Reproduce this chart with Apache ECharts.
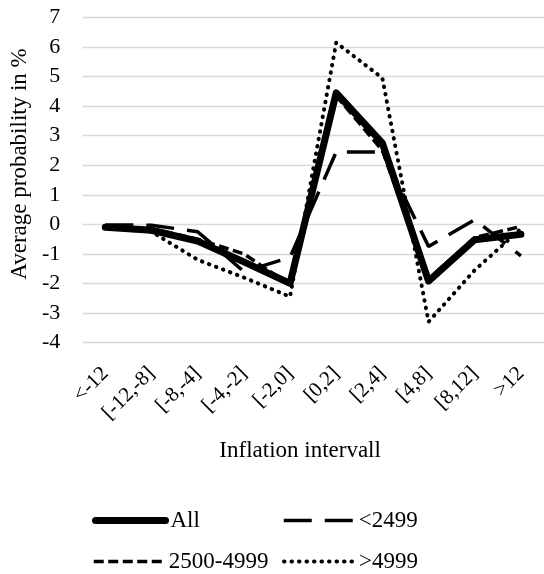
<!DOCTYPE html>
<html>
<head>
<meta charset="utf-8">
<script src="https://cdn.jsdelivr.net/npm/echarts@6/dist/echarts.min.js"></script>
<style>
  html, body { margin: 0; padding: 0; background: #fff; }
  #chart { width: 544px; height: 574px; }
</style>
</head>
<body>
<div id="chart"></div>
<script>
// inflation buckets on the x axis
var categories = ['<-12', '[-12,-8]', '[-8,-4]', '[-4,-2]', '[-2,0]', '[0,2]', '[2,4]', '[4,8]', '[8,12]', '>12'];

// average probability in %
var allValues = [-0.1, -0.2, -0.57, -1.27, -2.0, 4.45, 2.75, -1.92, -0.52, -0.34];
var below2499 = [-0.02, -0.03, -0.25, -1.6, -1.12, 2.45, 2.45, -0.75, 0.16, -1.07];
var mid2500to4999 = [-0.05, -0.15, -0.5, -1.0, -2.05, 4.35, 2.5, -1.85, -0.45, -0.07];
var above4999 = [-0.1, -0.25, -1.2, -1.8, -2.45, 6.15, 4.95, -3.3, -1.55, -0.15];

var seriesNames = ['All', '<2499', '2500-4999', '>4999'];

var font = 'Liberation Serif';

// line looks, shared by the series and their legend keys
var lineLooks = [
  { color: '#000', width: 7, type: 'solid', cap: 'round', join: 'round' },
  { color: '#000', width: 3.5, type: [28, 13], cap: 'butt' },
  { color: '#000', width: 3.5, type: [10, 4.5], cap: 'butt' },
  { color: '#000', width: 4, type: [0.5, 7], cap: 'round' }
];

var chartDom = document.getElementById('chart');
var myChart = echarts.init(chartDom);
var option;

function legendAt(i, left, top) {
  return {
    data: [seriesNames[i]],
    left: left,
    top: top,
    padding: 0,
    itemWidth: 70,
    itemHeight: 14,
    itemGap: 5,
    itemStyle: { color: 'transparent', borderWidth: 0, opacity: 0 },
    lineStyle: lineLooks[i],
    textStyle: { fontFamily: font, fontSize: 23, color: '#000' }
  };
}

function lineSeries(i, values) {
  return {
    name: seriesNames[i],
    type: 'line',
    symbol: 'none',
    data: values,
    lineStyle: lineLooks[i],
    itemStyle: { color: '#000' }
  };
}

option = {
  animation: false,
  backgroundColor: '#fff',
  legend: [
    legendAt(0, 92, 509),
    legendAt(1, 282, 509),
    legendAt(2, 92, 550),
    legendAt(3, 282, 550)
  ],
  grid: {
    left: 80,
    top: 17.5,
    width: 468,
    bottom: 231.5
  },
  xAxis: {
    type: 'category',
    data: categories,
    boundaryGap: true,
    name: 'Inflation intervall',
    nameLocation: 'middle',
    nameGap: 97,
    nameTextStyle: { fontFamily: font, fontSize: 23, color: '#000', padding: [0, 26, 0, 0] },
    axisLine: { show: false, onZero: false },
    axisTick: { show: false },
    axisLabel: {
      rotate: 45,
      margin: 28,
      interval: 0,
      fontFamily: font,
      fontSize: 21,
      color: '#000'
    }
  },
  yAxis: {
    type: 'value',
    min: -4,
    max: 7,
    interval: 1,
    name: 'Average probability in %',
    nameLocation: 'middle',
    nameGap: 43,
    nameTextStyle: { fontFamily: font, fontSize: 23, color: '#000', padding: [0, 0, 0, 32] },
    axisLine: { show: false },
    axisTick: { show: false },
    axisLabel: { margin: 22, fontFamily: font, fontSize: 22, color: '#000' },
    splitLine: { lineStyle: { color: '#d9d9d9', width: 1.4 } }
  },
  series: [
    lineSeries(0, allValues),
    lineSeries(1, below2499),
    lineSeries(2, mid2500to4999),
    lineSeries(3, above4999)
  ]
};

option && myChart.setOption(option);
</script>
</body>
</html>
